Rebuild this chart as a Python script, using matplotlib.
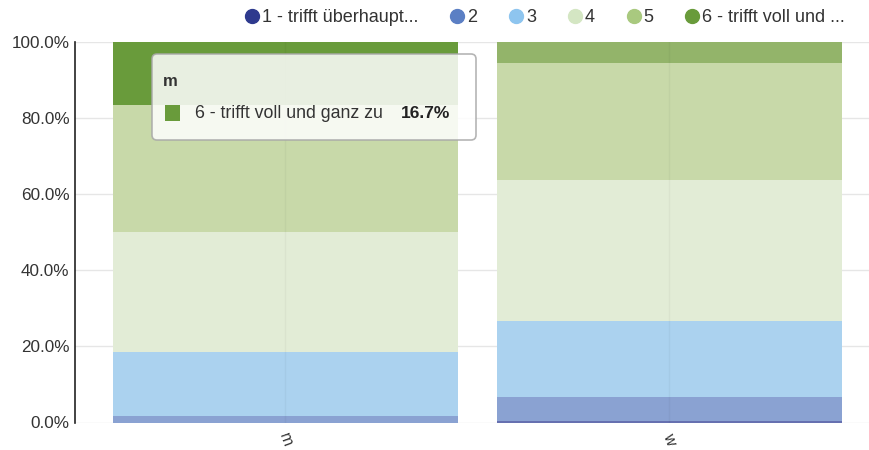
import matplotlib
matplotlib.use("Agg")
import matplotlib.pyplot as plt
from matplotlib.lines import Line2D
from matplotlib.patches import FancyBboxPatch, Rectangle
from matplotlib.ticker import FuncFormatter
import numpy as np

plt.rcParams['font.family'] = ['Liberation Sans', 'DejaVu Sans']

# ---- data ----
categories = ["m", "w"]
series_names = ["1 - trifft überhaupt nicht zu", "2", "3", "4", "5", "6 - trifft voll und ganz zu"]
legend_labels = ["1 - trifft überhaupt...", "2", "3", "4", "5", "6 - trifft voll und ..."]
values_m = [0.0, 1.7, 16.7, 31.7, 33.3, 16.7]
values_w = [0.5, 6.2, 20.1, 36.9, 30.7, 5.6]
legend_colors = ["#2e3a8e", "#5b7fc4", "#8ec5ef", "#d4e6c3", "#a9c97f", "#699b3b"]
bar_colors = ["#6670b0", "#8aa2d2", "#abd2ef", "#e2ecd6", "#c8d9a9", "#93b46a"]
hover_cat = 0      # index of hovered category (m)
hover_series = 5   # index of hovered series (6 - ...)
yticks = [0, 20, 40, 60, 80, 100]

W, H = 869, 450
fig = plt.figure(figsize=(W / 100, H / 100), dpi=100)
ax = fig.add_axes([75 / W, (H - 422.5) / H, (W - 75) / W, (422.5 - 42) / H])

values = np.array([values_m, values_w])
x = np.arange(len(categories))
bottom = np.zeros(len(categories))
for s in range(len(series_names)):
    cols = [legend_colors[s] if (c == hover_cat and s == hover_series) else bar_colors[s]
            for c in range(len(categories))]
    ax.bar(x, values[:, s], width=0.898, bottom=bottom, color=cols, linewidth=0, zorder=2)
    bottom += values[:, s]

ax.set_xlim(-0.548, 1.520)
ax.set_ylim(0, 100)
ax.set_yticks(yticks)
ax.yaxis.set_major_formatter(FuncFormatter(lambda v, p: f"{v:.1f}%"))
ax.set_xticks(x)
ax.set_xticklabels(categories, rotation=-70, fontsize=11.5, color="#333333")
ax.tick_params(axis="y", length=0, pad=4, labelsize=12.3, labelcolor="#333333")
ax.tick_params(axis="x", length=0, pad=6)

ax.grid(axis="y", color="#e6e6e6", linewidth=1, zorder=0)
for xi in x:
    ax.axvline(xi, color="#000000", alpha=0.035, linewidth=1, zorder=3)
for sp in ["top", "right", "bottom"]:
    ax.spines[sp].set_visible(False)
ax.spines["left"].set_color("#222222")
ax.spines["left"].set_linewidth(1.2)
ax.set_axisbelow(True)

# ---- legend ----
handles = [Line2D([0], [0], marker="o", linestyle="none", markersize=10,
                  markerfacecolor=c, markeredgecolor=c) for c in legend_colors]
fig.legend(handles, legend_labels, ncol=6, loc="center right",
           bbox_to_anchor=(845 / W, 1 - 18 / H), frameon=False,
           handletextpad=0.15, columnspacing=1.75, handlelength=0.8,
           fontsize=13, labelcolor="#333333", borderaxespad=0, borderpad=0)

# ---- tooltip ----
box = FancyBboxPatch((152 / 100, (H - 140) / 100), 324 / 100, 86 / 100,
                     boxstyle="round,pad=0,rounding_size=0.05",
                     transform=fig.dpi_scale_trans, facecolor="white", alpha=0.85,
                     edgecolor="#a8a8a8", linewidth=1.2, zorder=10)
fig.add_artist(box)
fig.text(163 / W, 1 - 82 / H, categories[hover_cat], fontsize=12, fontweight="bold",
         color="#333333", va="center", ha="left", zorder=11)
sq = Rectangle((165 / 100, (H - 121) / 100), 15 / 100, 16 / 100,
               transform=fig.dpi_scale_trans, facecolor=legend_colors[hover_series],
               edgecolor="none", zorder=11)
fig.add_artist(sq)
fig.text(195 / W, 1 - 113 / H, series_names[hover_series], fontsize=12.8,
         color="#333333", va="center", ha="left", zorder=11)
fig.text(450 / W, 1 - 113 / H, f"{values[hover_cat, hover_series]:.1f}%", fontsize=12.5,
         fontweight="bold", color="#222222", va="center", ha="right", zorder=11)

fig.savefig("out.png", dpi=100)
